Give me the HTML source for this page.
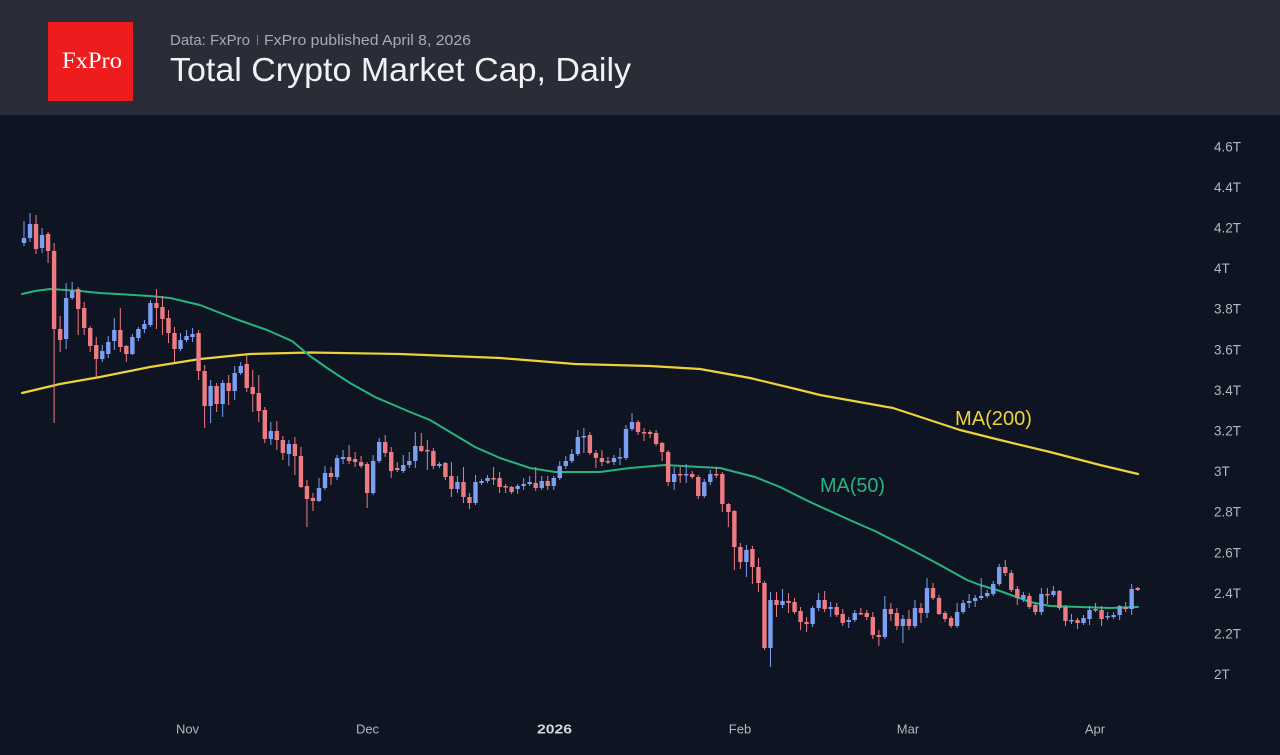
<!DOCTYPE html>
<html><head><meta charset="utf-8"><style>
html,body{margin:0;padding:0;background:#0e1421;width:1280px;height:755px;overflow:hidden}
svg{display:block}
text{font-family:"Liberation Sans",Arial,sans-serif}
</style></head><body>
<svg width="1280" height="755" viewBox="0 0 1280 755" xmlns="http://www.w3.org/2000/svg">
<rect x="0" y="0" width="1280" height="755" fill="#0e1421"/>
<rect x="0" y="0" width="1280" height="115" fill="#2a2d38"/>
<rect x="48" y="22" width="85" height="79" fill="#ee1c1c"/>
<text x="62" y="68" fill="#ffffff" font-size="23" textLength="60" lengthAdjust="spacingAndGlyphs" style="font-family:'Liberation Serif',serif">FxPro</text>
<text x="170" y="45" fill="#a8abb3" font-size="15" textLength="80" lengthAdjust="spacingAndGlyphs">Data: FxPro</text>
<rect x="257" y="35" width="1" height="10" fill="#7d808a"/>
<text x="264" y="45" fill="#a8abb3" font-size="15" textLength="207" lengthAdjust="spacingAndGlyphs">FxPro published April 8, 2026</text>
<text x="170" y="81" fill="#f2f2f4" font-size="33" textLength="461" lengthAdjust="spacingAndGlyphs">Total Crypto Market Cap, Daily</text>

<g fill="#b4b7bf" font-size="13.5">
<text x="1214" y="151.3">4.6T</text>
<text x="1214" y="191.9">4.4T</text>
<text x="1214" y="232.5">4.2T</text>
<text x="1214" y="273.1">4T</text>
<text x="1214" y="313.7">3.8T</text>
<text x="1214" y="354.3">3.6T</text>
<text x="1214" y="394.9">3.4T</text>
<text x="1214" y="435.5">3.2T</text>
<text x="1214" y="476.1">3T</text>
<text x="1214" y="516.7">2.8T</text>
<text x="1214" y="557.3">2.6T</text>
<text x="1214" y="597.9">2.4T</text>
<text x="1214" y="638.5">2.2T</text>
<text x="1214" y="679.1">2T</text>
</g>
<g fill="#b4b7bf" font-size="13" text-anchor="middle">
<text x="187.5" y="733.5">Nov</text>
<text x="367.5" y="733.5">Dec</text>
<text x="554.5" y="733.5" font-weight="bold" fill="#d6d8de" textLength="35" lengthAdjust="spacingAndGlyphs">2026</text>
<text x="740" y="733.5">Feb</text>
<text x="908" y="733.5">Mar</text>
<text x="1095" y="733.5">Apr</text>
</g>

<polyline fill="none" stroke="#ecd33a" stroke-width="2.2" stroke-linejoin="round" stroke-linecap="round" points="22,393 60,384 100,377 150,367 200,359 250,354 310,352.5 400,354 500,358 575,364 650,366 700,369 750,378 800,390 820,395 893,408 960,430 1000,440 1050,452 1100,465 1138,474"/>
<polyline fill="none" stroke="#26b47f" stroke-width="2" stroke-linejoin="round" stroke-linecap="round" points="22,294 35,291 50,289 80,291 100,293 150,296 170,298 200,305 233,318 267,330 292,341 310,356 330,370 350,383 375,397 410,412 430,420 450,432 475,447 500,458 530,468 555,472 575,472 600,472 630,468 665,465 700,467 720,468 755,477 780,487 810,502 843,517 877,532 910,549 940,565 967,580 980,585 1000,591 1030,602 1050,606 1080,607 1110,608 1138,607"/>

<g transform="translate(24,0) scale(6.02,1)" fill="none">
<path stroke="#ef7b82" stroke-width="1" vector-effect="non-scaling-stroke" d="M2,215V254M4,232V263M5,243V423M6,316V352M9,287V335M10,302V335M11,326V352M12,337V377M16,308V352M17,345V362M22,289V329M23,296V335M24,310V343M25,327V362M29,330V380M30,365V428M32,383V412M34,375V405M37,355V392M38,370V412M39,375V422M40,407V443M42,421V450M43,436V460M45,437V475M46,447V488M47,480V527M48,493V511M51,467V485M54,445V464M55,452V467M56,456V468M57,462V508M60,435V457M61,447V478M62,462V472M66,433V452M67,440V470M68,448V469M70,462V480M71,462V497M73,467V503M74,493V509M78,467V485M79,472V493M80,484V493M81,486V494M85,467V491M87,476V490M94,432V455M95,450V468M96,450V466M97,457V464M102,420V435M103,428V441M104,430V438M105,430V446M106,442V461M107,450V486M109,467V483M111,471V479M112,475V499M115,467V478M116,472V512M117,503V527M118,510V570M119,543V569M121,546V584M122,558V592M123,581V650M125,592V617M127,593V613M128,598V614M129,607V630M130,617V632M133,591V612M135,603V617M136,609V626M139,608V615M140,610V620M141,612V639M142,630V646M144,603V621M145,608V630M147,610V630M149,603V623M151,583V600M152,595V615M153,611V622M154,616V628M163,560V576M164,570V592M165,586V605M167,593V609M168,603V615M170,588V604M172,590V610M173,605V626M175,618V629M178,603V612M179,606V626M183,602V612M185,587V591"/>
<path stroke="#ef7b82" stroke-width="4.4" vector-effect="non-scaling-stroke" d="M2,224V249M4,234V251M5,251V329M6,329V340M9,289V309M10,308V328M11,328V346M12,345V359M16,330V347M17,346V354M22,303V308M23,307V319M24,318V333M25,333V349M29,333V371M30,371V406M32,386V404M34,383V391M37,364V388M38,387V394M39,393V411M40,410V439M42,431V440M43,440V453M45,444V456M46,456V487M47,486V499M48,498V501M51,473V477M54,457V461M55,459V462M56,462V466M57,464V493M60,442V453M61,452V471M62,468V470M66,446V451M67,450V451.5M68,451V466M70,463V477M71,476V489M73,482V497M74,497V503M78,478V479.5M79,478V487M80,486V487.5M81,487V492M85,483V488M87,481V486M94,435V453M95,453V458M96,458V462M97,461V462.5M102,422V432M103,432V433.5M104,432V434M105,433V444M106,443V452M107,452V482M109,474V475.5M111,474V477M112,477V496M115,474V475.5M116,474V504M117,504V512M118,511V547M119,547V562M121,549V567M122,567V583M123,583V648M125,600V605M127,601V603M128,602V612M129,611V622M130,622V624M133,600V609M135,607V615M136,614V623M139,613V614.5M140,613V617M141,617V635M142,635V637M144,609V614M145,613V626M147,619V626M149,608V613M151,588V598M152,598V614M153,613V619M154,618V626M163,567V573M164,573V590M165,589V598M167,596V607M168,605V612M170,594V595.5M172,591V608M173,607V621M175,620V623M178,609V610.5M179,610V619M183,607V609M185,588V590"/>
<path stroke="#7b9ff2" stroke-width="1" vector-effect="non-scaling-stroke" d="M0,221V246M1,213V242M3,228V253M7,283V349M8,282V300M13,345V362M14,336V358M15,318V350M18,334V355M19,327V341M20,320V333M21,300V327M26,333V351M27,330V342M28,328V342M31,380V423M33,380V417M35,366V400M36,362V375M41,422V445M44,440V466M49,478V502M50,466V490M52,455V480M53,450V464M58,455V495M59,438V463M63,455V473M64,452V468M65,432V468M69,462V468M72,476V493M75,475V505M76,479V485M77,475V483M82,484V494M83,478V490M84,476V486M86,476V490M88,476V490M89,461V480M90,456V469M91,449V463M92,430V456M93,428V453M98,455V465M99,448V465M100,425V460M101,413V431M108,467V490M110,464V483M113,479V498M114,470V485M120,545V577M124,592V667M126,589V608M131,606V627M132,593V611M134,602V617M137,617V628M138,610V622M143,596V639M146,615V643M148,600V628M150,578V618M155,603V628M156,600V614M157,594V608M158,595V607M159,578V600M160,590V598M161,581V596M162,564V586M166,592V602M169,588V615M171,586V597M174,614V624M176,615V625M177,606V625M180,612V620M181,612V619M182,605V620M184,584V615"/>
<path stroke="#7b9ff2" stroke-width="4.4" vector-effect="non-scaling-stroke" d="M0,238V243M1,224V238M3,235V248M7,298V339M8,291V298M13,351V359M14,342V354M15,330V341M18,337V354M19,329V338M20,324V329M21,303V325M26,340V349M27,336V340M28,334V337M31,386V406M33,383V404M35,373V391M36,366V373M41,431V439M44,444V454M49,488V501M50,473V488M52,458V477M53,457V459M58,461V493M59,442V461M63,465V471M64,461V465M65,446V461M69,464V466M72,482V489M75,482V503M76,481V483M77,478V481M82,486V489M83,484V486M84,482V484M86,481V488M88,478V486M89,466V478M90,461V466M91,454V461M92,437V454M93,436V437.5M98,458V462M99,457V458.5M100,429V458M101,422V429M108,474V482M110,474V475.5M113,482V496M114,474V482M120,550V562M124,600V648M126,601V605M131,608V624M132,600V608M134,607V609M137,620V622M138,613V620M143,609V637M146,619V626M148,608V626M150,588V613M155,612V626M156,603V612M157,601V603M158,598V601M159,596V598M160,593V596M161,584V594M162,567V584M166,595V599M169,594V612M171,591V595M174,620V621.5M176,618V623M177,610V619M180,616V617.5M181,615V617M182,606V615M184,589V609"/>
</g>

<text x="955" y="425" fill="#ecd33a" font-size="20" textLength="77" lengthAdjust="spacingAndGlyphs">MA(200)</text>
<text x="820" y="492" fill="#26b47f" font-size="20" textLength="65" lengthAdjust="spacingAndGlyphs">MA(50)</text>
</svg>
</body></html>
